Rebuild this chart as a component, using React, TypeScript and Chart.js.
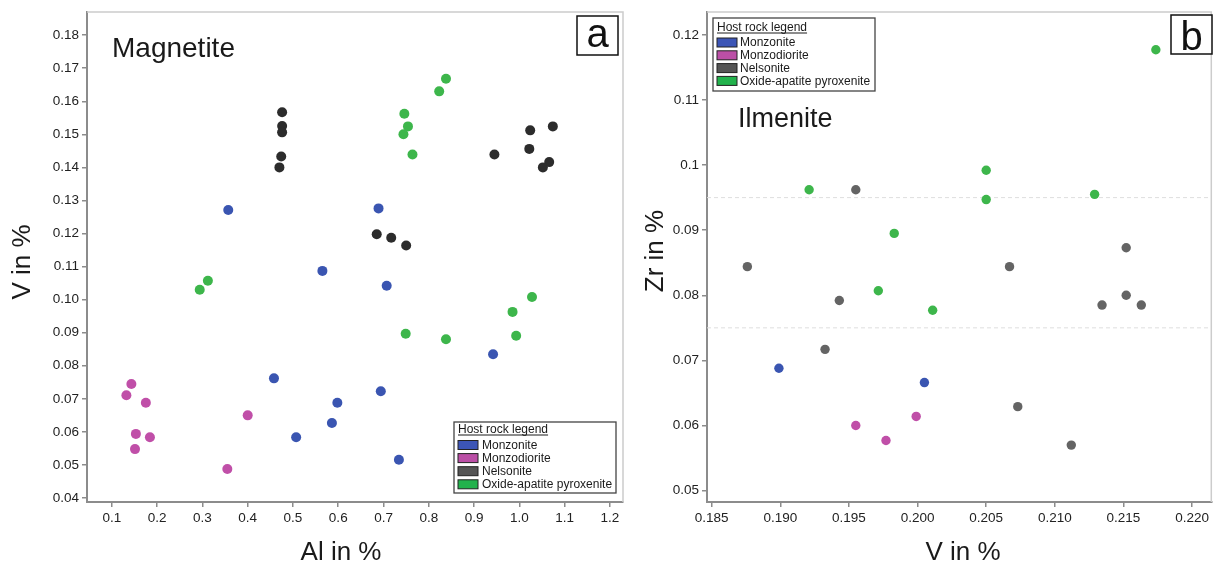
import React, { useEffect, useRef } from "react";
import { Chart, registerables } from "chart.js";

Chart.register(...registerables);

const FONT = '"Liberation Sans", Arial, Helvetica, sans-serif';

// Legend / series names
const SERIES = ["Monzonite", "Monzodiorite", "Nelsonite", "Oxide-apatite pyroxenite"];

// ---------- Panel a: Magnetite (Al % vs V %) ----------
const MAG_MONZONITE_AL = [0.357, 0.689, 0.565, 0.707, 0.942, 0.694, 0.598, 0.586, 0.734, 0.458, 0.507];
const MAG_MONZONITE_V = [0.1271, 0.1276, 0.1087, 0.1042, 0.0835, 0.0723, 0.0688, 0.0627, 0.0516, 0.0762, 0.0584];

const MAG_MONZODIORITE_AL = [0.143, 0.132, 0.175, 0.153, 0.184, 0.151, 0.4, 0.355];
const MAG_MONZODIORITE_V = [0.0745, 0.0711, 0.0688, 0.0594, 0.0584, 0.0548, 0.065, 0.0488];

const MAG_NELSONITE_AL = [0.476, 0.476, 0.476, 0.474, 0.47, 1.024, 1.074, 0.945, 1.022, 1.066, 1.052, 0.685, 0.717, 0.75];
const MAG_NELSONITE_V = [0.1567, 0.1525, 0.1506, 0.1433, 0.14, 0.1512, 0.1524, 0.1439, 0.1456, 0.1416, 0.14, 0.1198, 0.1187, 0.1164];

const MAG_OXIDE_AL = [0.294, 0.312, 0.838, 0.823, 0.746, 0.754, 0.744, 0.764, 1.028, 0.985, 0.993, 0.749, 0.838];
const MAG_OXIDE_V = [0.103, 0.1057, 0.1668, 0.163, 0.1562, 0.1524, 0.15, 0.1439, 0.1008, 0.0963, 0.0891, 0.0897, 0.088];

const A_X_TICKS = [0.1, 0.2, 0.3, 0.4, 0.5, 0.6, 0.7, 0.8, 0.9, 1.0, 1.1, 1.2];
const A_Y_TICKS = [0.04, 0.05, 0.06, 0.07, 0.08, 0.09, 0.1, 0.11, 0.12, 0.13, 0.14, 0.15, 0.16, 0.17, 0.18];

// ---------- Panel b: Ilmenite (V % vs Zr %) ----------
const ILM_MONZONITE_V = [0.1899, 0.2005];
const ILM_MONZONITE_ZR = [0.0688, 0.0666];

const ILM_MONZODIORITE_V = [0.1955, 0.1977, 0.1999];
const ILM_MONZODIORITE_ZR = [0.06, 0.0577, 0.0614];

const ILM_NELSONITE_V = [0.1955, 0.1876, 0.2152, 0.2067, 0.1943, 0.19326, 0.2152, 0.21344, 0.2163, 0.2073, 0.2112];
const ILM_NELSONITE_ZR = [0.0962, 0.0844, 0.0873, 0.0844, 0.0792, 0.0717, 0.08, 0.0785, 0.0785, 0.0629, 0.057];

const ILM_OXIDE_V = [0.21736, 0.205, 0.205, 0.2129, 0.1921, 0.1983, 0.19714, 0.2011];
const ILM_OXIDE_ZR = [0.1177, 0.0992, 0.0947, 0.0955, 0.0962, 0.0895, 0.0807, 0.0777];

const B_X_TICKS = [0.185, 0.19, 0.195, 0.2, 0.205, 0.21, 0.215, 0.22];
const B_Y_TICKS = [0.05, 0.06, 0.07, 0.08, 0.09, 0.1, 0.11, 0.12];
const B_DASHED_Y = [0.095, 0.075];

// colours
const POINT_COLORS_A = ["#3a55b1", "#c04fa8", "#2c2c2c", "#3db64b"];
const POINT_COLORS_B = ["#3a55b1", "#c04fa8", "#646464", "#3db64b"];
const LEGEND_COLORS = ["#3c55b6", "#bb4fa6", "#555555", "#22b24c"];

const zip = (xs: number[], ys: number[]) => xs.map((x, i) => ({ x, y: ys[i] }));

type PanelSpec = {
  width: number;
  left: number;
  datasets: { label: string; data: { x: number; y: number }[]; color: string }[];
  radius: number;
  xMin: number; xMax: number; yMin: number; yMax: number;
  xTicks: number[]; yTicks: number[];
  xFmt: (v: number) => string; yFmt: (v: number) => string;
  yAxisWidth: number; padRight: number;
  dashed: number[];
  title: string; titleX: number; titleY: number; titleSize: number;
  letter: string; letterBox: [number, number, number, number]; letterBase: number;
  xTitle: string; xTitleX: number;
  yTitle: string; yTitleX: number; yTitleY: number;
  legend: { x: number; y: number; w: number; h: number; titleDy: number; row0: number; rowStep: number; swX: number; swW: number; textX: number };
};

function buildChart(canvas: HTMLCanvasElement, s: PanelSpec) {
  const overlay = {
    id: "overlay",
    beforeDatasetsDraw(chart: any) {
      const { ctx, chartArea } = chart;
      const y = chart.scales.y;
      s.dashed.forEach((v) => {
        const py = y.getPixelForValue(v);
        ctx.save();
        ctx.setLineDash([4, 3]);
        ctx.strokeStyle = "#dedede";
        ctx.lineWidth = 1;
        ctx.beginPath();
        ctx.moveTo(chartArea.left, py);
        ctx.lineTo(chartArea.right, py);
        ctx.stroke();
        ctx.restore();
      });
    },
    afterDraw(chart: any) {
      const { ctx, chartArea } = chart;
      ctx.save();
      // frame top and right
      ctx.strokeStyle = "#cccccc";
      ctx.lineWidth = 1.5;
      ctx.beginPath();
      ctx.moveTo(chartArea.left, chartArea.top);
      ctx.lineTo(chartArea.right, chartArea.top);
      ctx.lineTo(chartArea.right, chartArea.bottom);
      ctx.stroke();

      // panel title
      ctx.fillStyle = "#1a1a1a";
      ctx.font = `${s.titleSize}px ${FONT}`;
      ctx.textAlign = "left";
      ctx.textBaseline = "alphabetic";
      ctx.fillText(s.title, s.titleX, s.titleY);

      // letter box
      const [lx, ly, lw, lh] = s.letterBox;
      ctx.fillStyle = "#ffffff";
      ctx.fillRect(lx, ly, lw, lh);
      ctx.strokeStyle = "#111111";
      ctx.lineWidth = 1.5;
      ctx.strokeRect(lx, ly, lw, lh);
      ctx.fillStyle = "#111111";
      ctx.font = `40px ${FONT}`;
      ctx.textAlign = "center";
      ctx.fillText(s.letter, lx + lw / 2, s.letterBase);

      // axis titles
      ctx.font = `26px ${FONT}`;
      ctx.fillStyle = "#1a1a1a";
      ctx.textAlign = "center";
      ctx.textBaseline = "alphabetic";
      ctx.fillText(s.xTitle, s.xTitleX, 560);
      ctx.save();
      ctx.translate(s.yTitleX, s.yTitleY);
      ctx.rotate(-Math.PI / 2);
      ctx.textBaseline = "middle";
      ctx.fillText(s.yTitle, 0, 0);
      ctx.restore();

      // legend
      const L = s.legend;
      ctx.fillStyle = "#ffffff";
      ctx.fillRect(L.x, L.y, L.w, L.h);
      ctx.strokeStyle = "#444444";
      ctx.lineWidth = 1.3;
      ctx.strokeRect(L.x, L.y, L.w, L.h);
      ctx.font = `12px ${FONT}`;
      ctx.textAlign = "left";
      ctx.textBaseline = "alphabetic";
      ctx.fillStyle = "#1a1a1a";
      const t = "Host rock legend";
      const tx = L.x + L.swX;
      const ty = L.y + L.titleDy;
      ctx.fillText(t, tx, ty);
      const tw = ctx.measureText(t).width;
      ctx.strokeStyle = "#1a1a1a";
      ctx.lineWidth = 1;
      ctx.beginPath();
      ctx.moveTo(tx, ty + 2);
      ctx.lineTo(tx + tw, ty + 2);
      ctx.stroke();
      ctx.textBaseline = "middle";
      chart.data.datasets.forEach((ds: any, i: number) => {
        const cy = L.y + L.row0 + i * L.rowStep;
        ctx.fillStyle = LEGEND_COLORS[i];
        ctx.fillRect(L.x + L.swX, cy - 4.5, L.swW, 9);
        ctx.strokeStyle = "#222222";
        ctx.lineWidth = 1;
        ctx.strokeRect(L.x + L.swX, cy - 4.5, L.swW, 9);
        ctx.fillStyle = "#1a1a1a";
        ctx.fillText(ds.label, L.x + L.textX, cy + 0.5);
      });
      ctx.restore();
    },
  };

  const tickFont = { family: FONT, size: 13.5 };
  return new Chart(canvas, {
    type: "scatter",
    data: {
      datasets: s.datasets.map((d) => ({
        label: d.label,
        data: d.data,
        backgroundColor: d.color,
        borderColor: d.color,
        borderWidth: 0,
        pointRadius: s.radius,
        pointHoverRadius: s.radius,
      })),
    },
    options: {
      responsive: false,
      animation: false,
      devicePixelRatio: 1,
      layout: { padding: { left: 0, top: 12, right: s.padRight, bottom: 0 } },
      plugins: { legend: { display: false }, tooltip: { enabled: false } },
      scales: {
        x: {
          type: "linear",
          min: s.xMin,
          max: s.xMax,
          afterBuildTicks: (sc: any) => {
            sc.ticks = s.xTicks.map((value) => ({ value }));
          },
          afterFit: (sc: any) => {
            sc.height = 60;
          },
          ticks: {
            callback: (v: any) => s.xFmt(Number(v)),
            font: tickFont,
            color: "#222222",
            padding: 3,
            maxRotation: 0,
            autoSkip: false,
          },
          grid: { display: true, drawOnChartArea: false, drawTicks: true, tickLength: 5, color: "#8c8c8c", lineWidth: 1.5 },
          border: { display: true, color: "#8c8c8c", width: 2 },
        },
        y: {
          type: "linear",
          min: s.yMin,
          max: s.yMax,
          afterBuildTicks: (sc: any) => {
            sc.ticks = s.yTicks.map((value) => ({ value }));
          },
          afterFit: (sc: any) => {
            sc.width = s.yAxisWidth;
          },
          ticks: {
            callback: (v: any) => s.yFmt(Number(v)),
            font: tickFont,
            color: "#222222",
            padding: 3,
            autoSkip: false,
          },
          grid: { display: true, drawOnChartArea: false, drawTicks: true, tickLength: 5, color: "#8c8c8c", lineWidth: 1.5 },
          border: { display: true, color: "#8c8c8c", width: 2 },
        },
      },
    } as any,
    plugins: [overlay as any],
  });
}

const PANEL_A: PanelSpec = {
  width: 630,
  left: 0,
  datasets: [
    { label: SERIES[0], data: zip(MAG_MONZONITE_AL, MAG_MONZONITE_V), color: POINT_COLORS_A[0] },
    { label: SERIES[1], data: zip(MAG_MONZODIORITE_AL, MAG_MONZODIORITE_V), color: POINT_COLORS_A[1] },
    { label: SERIES[2], data: zip(MAG_NELSONITE_AL, MAG_NELSONITE_V), color: POINT_COLORS_A[2] },
    { label: SERIES[3], data: zip(MAG_OXIDE_AL, MAG_OXIDE_V), color: POINT_COLORS_A[3] },
  ],
  radius: 5,
  xMin: 0.045, xMax: 1.229, yMin: 0.0388, yMax: 0.187,
  xTicks: A_X_TICKS, yTicks: A_Y_TICKS,
  xFmt: (v) => v.toFixed(1),
  yFmt: (v) => v.toFixed(2),
  yAxisWidth: 87, padRight: 7,
  dashed: [],
  title: "Magnetite", titleX: 112, titleY: 57, titleSize: 28,
  letter: "a", letterBox: [577, 16, 41, 39], letterBase: 47,
  xTitle: "Al in %", xTitleX: 341,
  yTitle: "V in %", yTitleX: 23, yTitleY: 262,
  legend: { x: 454, y: 422, w: 162, h: 71, titleDy: 11, row0: 23, rowStep: 13.1, swX: 4, swW: 20, textX: 28 },
};

const PANEL_B: PanelSpec = {
  width: 586,
  left: 630,
  datasets: [
    { label: SERIES[0], data: zip(ILM_MONZONITE_V, ILM_MONZONITE_ZR), color: POINT_COLORS_B[0] },
    { label: SERIES[1], data: zip(ILM_MONZODIORITE_V, ILM_MONZODIORITE_ZR), color: POINT_COLORS_B[1] },
    { label: SERIES[2], data: zip(ILM_NELSONITE_V, ILM_NELSONITE_ZR), color: POINT_COLORS_B[2] },
    { label: SERIES[3], data: zip(ILM_OXIDE_V, ILM_OXIDE_ZR), color: POINT_COLORS_B[3] },
  ],
  radius: 4.7,
  xMin: 0.18466, xMax: 0.2214, yMin: 0.04826, yMax: 0.1235,
  xTicks: B_X_TICKS, yTicks: B_Y_TICKS,
  xFmt: (v) => v.toFixed(3),
  yFmt: (v) => String(Number(v.toFixed(2))),
  yAxisWidth: 77, padRight: 3,
  dashed: B_DASHED_Y,
  title: "Ilmenite", titleX: 108, titleY: 127, titleSize: 27,
  letter: "b", letterBox: [541, 15, 41, 39], letterBase: 50,
  xTitle: "V in %", xTitleX: 333,
  yTitle: "Zr in %", yTitleX: 26, yTitleY: 251,
  legend: { x: 83, y: 18, w: 162, h: 73, titleDy: 13, row0: 24.5, rowStep: 12.8, swX: 4, swW: 20, textX: 27 },
};

function Panel({ spec }: { spec: PanelSpec }) {
  const ref = useRef<HTMLCanvasElement | null>(null);
  useEffect(() => {
    if (!ref.current) return;
    const chart = buildChart(ref.current, spec);
    return () => chart.destroy();
  }, [spec]);
  return (
    <canvas
      ref={ref}
      width={spec.width}
      height={562}
      style={{ position: "absolute", left: spec.left, top: 0, width: spec.width, height: 562 }}
    />
  );
}

export default function App() {
  return (
    <div style={{ position: "fixed", left: 0, top: 0, width: 1216, height: 562, background: "#ffffff" }}>
      <Panel spec={PANEL_A} />
      <Panel spec={PANEL_B} />
    </div>
  );
}
